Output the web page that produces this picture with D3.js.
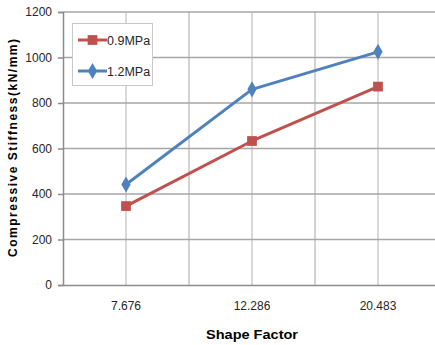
<!DOCTYPE html>
<html><head><meta charset="utf-8">
<script src="https://cdn.jsdelivr.net/npm/d3@7"></script>
<style>body{margin:0;background:#fff}svg{display:block}</style>
</head><body>
<script>
const categories = ["7.676", "12.286", "20.483"];
const series09 = [347, 633, 872];
const series12 = [442, 860, 1025];
const yTicks = [0, 200, 400, 600, 800, 1000, 1200];
const seriesNames = ["0.9MPa", "1.2MPa"];

const W = 435, H = 345;
const m = {left: 63, top: 12, right: -6, bottom: 60};
const svg = d3.select("body").append("svg").attr("width", W).attr("height", H);
const x0 = m.left, x1 = W - m.right, y0 = H - m.bottom, y1 = m.top;
const x = d3.scaleBand().domain(categories).range([x0, x1]);
const y = d3.scaleLinear().domain([0, 1200]).range([y0, y1]);
const font = "'Liberation Sans', Arial, sans-serif";

// vertical center lines (light)
svg.append("g").selectAll("line").data(categories).join("line")
  .attr("x1", d => x(d) + x.bandwidth()/2).attr("x2", d => x(d) + x.bandwidth()/2)
  .attr("y1", y1).attr("y2", y0).attr("stroke", "#d9d9d9").attr("stroke-width", 2);
// category boundaries
svg.append("g").selectAll("line").data(categories.slice(1)).join("line")
  .attr("x1", d => x(d)).attr("x2", d => x(d))
  .attr("y1", y1).attr("y2", y0).attr("stroke", "#a6a6a6").attr("stroke-width", 1);
// horizontal grid
svg.append("g").selectAll("line").data(yTicks.slice(1)).join("line")
  .attr("x1", x0).attr("x2", x1).attr("y1", d => y(d)).attr("y2", d => y(d))
  .attr("stroke", "#a6a6a6").attr("stroke-width", 1.5);

// y axis
const ya = svg.append("g").attr("transform", `translate(${x0},0)`)
  .call(d3.axisLeft(y).tickValues(yTicks).tickFormat(d3.format("d")).tickSize(5).tickPadding(6));
ya.select(".domain").attr("stroke", "#8c8c8c").attr("stroke-width", 1.5);
ya.selectAll(".tick line").attr("stroke", "#8c8c8c").attr("stroke-width", 1.5);
ya.selectAll("text").attr("font-family", font).attr("font-size", 12).attr("fill", "#262626");

// x axis
const xa = svg.append("g").attr("transform", `translate(0,${y0})`)
  .call(d3.axisBottom(x).tickSize(0).tickPadding(16));
xa.select(".domain").attr("stroke", "#8c8c8c").attr("stroke-width", 1.5);
xa.selectAll("text").attr("font-family", font).attr("font-size", 12).attr("fill", "#262626");

// lines
const cx = d => x(d) + x.bandwidth()/2;
const line = d3.line().x((d, i) => cx(categories[i])).y(d => y(d));
const colors = ["#C0504D", "#4F81BD"];
[series09, series12].forEach((s, k) => {
  svg.append("path").datum(s).attr("d", line).attr("fill", "none")
    .attr("stroke", colors[k]).attr("stroke-width", 3).attr("stroke-linejoin", "round");
});
const sq = d3.symbol().type(d3.symbolSquare).size(95);
const di = d3.symbol().type(d3.symbolDiamond).size(75);
svg.append("g").selectAll("path").data(series09).join("path")
  .attr("d", sq).attr("transform", (d, i) => `translate(${cx(categories[i])},${y(d)})`).attr("fill", colors[0]);
svg.append("g").selectAll("path").data(series12).join("path")
  .attr("d", di).attr("transform", (d, i) => `translate(${cx(categories[i])},${y(d)})`).attr("fill", colors[1]);

// legend
const lg = svg.append("g");
lg.append("rect").attr("x", 72.5).attr("y", 23.5).attr("width", 80).attr("height", 62)
  .attr("fill", "#fff").attr("stroke", "#c8c8c8");
const ly = [40, 71];
seriesNames.forEach((n, k) => {
  lg.append("line").attr("x1", 78).attr("x2", 107).attr("y1", ly[k]).attr("y2", ly[k])
    .attr("stroke", colors[k]).attr("stroke-width", 3);
  lg.append("path").attr("d", k === 0 ? sq : di).attr("transform", `translate(92.5,${ly[k]})`).attr("fill", colors[k]);
  lg.append("text").attr("x", 107).attr("y", ly[k] + 4.5).text(n)
    .attr("font-family", font).attr("font-size", 12.5).attr("fill", "#262626");
});

// titles
svg.append("text").attr("x", 252).attr("y", 339).attr("text-anchor", "middle")
  .attr("font-family", font).attr("font-size", 13).attr("font-weight", "bold").attr("fill", "#000")
  .attr("textLength", 92).attr("lengthAdjust", "spacingAndGlyphs")
  .text("Shape Factor");
svg.append("text").attr("transform", "translate(17,148) rotate(-90)").attr("text-anchor", "middle")
  .attr("font-family", font).attr("font-size", 12).attr("font-weight", "bold").attr("fill", "#000")
  .attr("textLength", 218).attr("lengthAdjust", "spacing")
  .text("Compressive Stiffness(kN/mm)");
</script>
</body></html>
